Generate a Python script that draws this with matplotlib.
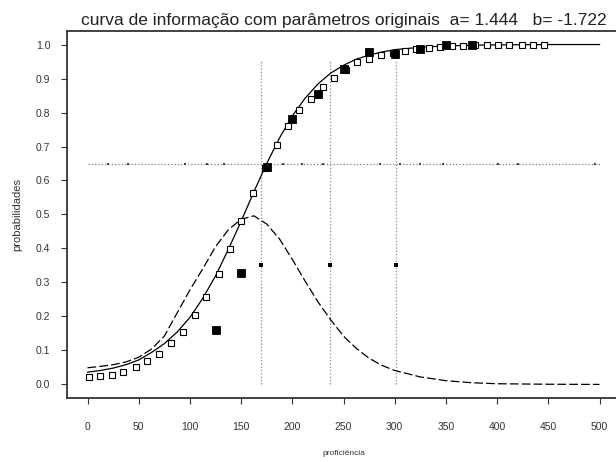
import numpy as np
import matplotlib
matplotlib.use('Agg')
import matplotlib.pyplot as plt

plt.rcParams['font.family'] = ['Liberation Sans', 'DejaVu Sans']

# curva caracteristica (linha continua)
prof_curva = [0, 12.5, 25, 37.5, 50, 62.5, 75, 87.5, 100, 112.5, 125, 137.5, 150, 162.5,
              175, 187.5, 200, 212.5, 225, 237.5, 250, 262.5, 275, 287.5, 300, 325, 350,
              375, 400, 450, 500]
prob_curva = [0.036, 0.041, 0.048, 0.058, 0.072, 0.094, 0.12, 0.154, 0.197, 0.253, 0.319,
              0.397, 0.48, 0.567, 0.65, 0.725, 0.79, 0.842, 0.884, 0.916, 0.939, 0.957,
              0.969, 0.978, 0.985, 0.992, 0.996, 0.998, 0.999, 1.0, 1.0]
# curva de informacao (tracejada)
info_curva = [0.049, 0.053, 0.058, 0.066, 0.08, 0.104, 0.142, 0.21, 0.278, 0.34, 0.405,
              0.455, 0.486, 0.496, 0.472, 0.428, 0.368, 0.304, 0.243, 0.19, 0.142, 0.106,
              0.077, 0.056, 0.041, 0.022, 0.011, 0.005, 0.002, 0.0005, 0.0]

# proporcoes empiricas (quadrados abertos)
prof_emp = [1, 12.5, 24, 35, 47, 58.5, 70, 82, 93.5, 105, 116, 128, 139, 150, 161.5, 173,
            185, 196, 207, 218, 230, 241, 252, 263, 275, 287, 298, 310, 321, 333, 344,
            356, 367, 378, 390, 401, 412, 424, 435, 446]
prop_emp = [0.022, 0.024, 0.028, 0.038, 0.05, 0.068, 0.09, 0.122, 0.153, 0.203, 0.258,
            0.324, 0.398, 0.481, 0.563, 0.638, 0.704, 0.76, 0.806, 0.84, 0.874, 0.903,
            0.925, 0.948, 0.958, 0.97, 0.975, 0.98, 0.987, 0.99, 0.992, 0.995, 0.997,
            0.998, 0.999, 0.999, 0.999, 0.999, 0.999, 0.999]

# niveis ancora (quadrados cheios)
prof_niv = [125, 150, 175, 200, 225, 250, 275, 300, 325, 350, 375]
prop_niv = [0.16, 0.329, 0.639, 0.781, 0.855, 0.928, 0.979, 0.972, 0.988, 1.0, 1.0]

linhas_v = [169.5, 237, 301.5]
linha_h = 0.65
ponto_v = 0.35
marcas_h = [20, 40, 95, 117, 133, 191, 209, 230, 286, 305, 325, 347, 401, 420, 496]

fig = plt.figure(figsize=(6.16, 4.62), dpi=100)
ax = fig.add_axes([0.1088, 0.1385, 0.8977, 0.7945])

for xv in linhas_v:
    ax.plot([xv, xv], [0, 0.955], ls=':', color='#888888', lw=0.9)
    ax.plot(xv, ponto_v, 's', color='black', ms=2.2, mew=0)
ax.plot([0, 500], [linha_h, linha_h], ls=':', color='#777777', lw=0.9)
ax.plot(marcas_h, [linha_h] * len(marcas_h), 's', color='#444444', ms=1.6, mew=0)

ax.plot(prof_curva, prob_curva, '-', color='black', lw=0.9)
ax.plot(prof_curva, info_curva, color='black', lw=0.9, dashes=(7, 2.5))
ax.plot(prof_emp, prop_emp, 's', mfc='white', mec='black', ms=5, mew=0.8)
ax.plot(prof_niv, prop_niv, 's', mfc='black', mec='black', ms=5.5, mew=0.6)

ax.set_xlim(-20, 520)
ax.set_ylim(-0.04, 1.04)
ax.set_xticks(np.arange(0, 501, 50))
ax.set_yticks(np.arange(0, 1.01, 0.1))
ax.set_yticklabels(['%.1f' % v for v in np.arange(0, 1.01, 0.1)])
ax.tick_params(axis='x', length=4, width=0.8, pad=13, labelsize=7.5, colors='#333333')
ax.tick_params(axis='y', length=4, width=0.8, pad=8, labelsize=7.5, colors='#333333')
for s in ax.spines.values():
    s.set_linewidth(1.3)
    s.set_color('#333333')

ax.set_xlabel('proficiência', fontsize=6, labelpad=13, color='#333333')
ax.set_ylabel('probabilidades', fontsize=8, labelpad=10, color='#333333')
ax.set_title('curva de informação com parâmetros originais  a= 1.444   b= -1.722',
             fontsize=12.5, pad=4, color='#222222')

fig.savefig('out.png', dpi=100)
